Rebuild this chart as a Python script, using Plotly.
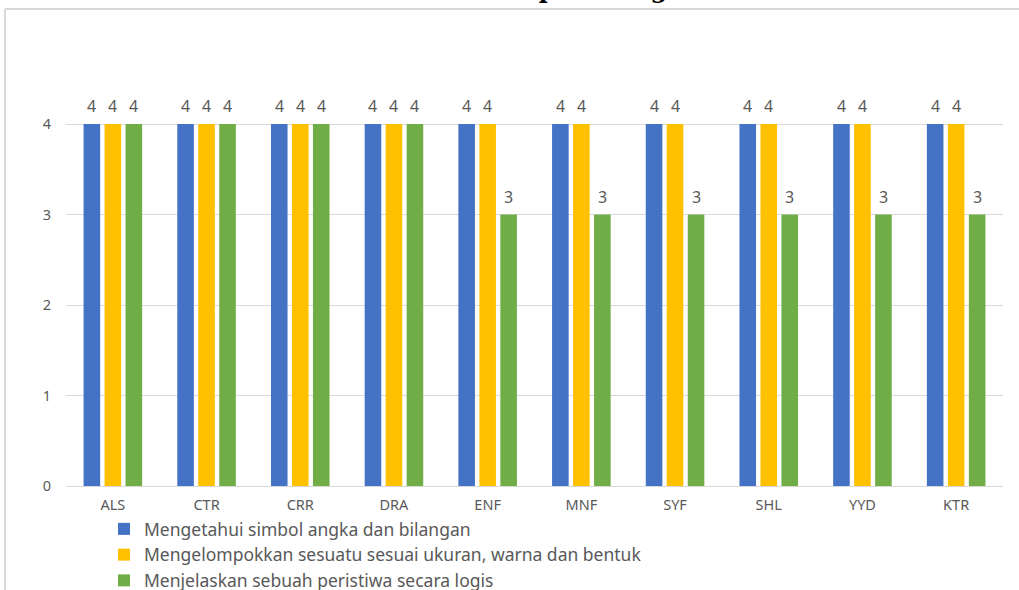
import plotly.graph_objects as go

categories = ["ALS", "CTR", "CRR", "DRA", "ENF", "MNF", "SYF", "SHL", "YYD", "KTR"]
series_names = [
    "Mengetahui simbol angka dan bilangan",
    "Mengelompokkan sesuatu sesuai ukuran, warna dan bentuk",
    "Menjelaskan sebuah peristiwa secara logis",
]
s1 = [4, 4, 4, 4, 4, 4, 4, 4, 4, 4]
s2 = [4, 4, 4, 4, 4, 4, 4, 4, 4, 4]
s3 = [4, 4, 4, 4, 3, 3, 3, 3, 3, 3]
colors = ["#4472C4", "#FFC000", "#70AD47"]
y_ticks = [0, 1, 2, 3, 4]
title_text = "Observasi Siklus I Kemampuan Kognitif Anak Didik"

W, H = 1019, 590
ml, mr, mt, mb = 66, 16, 60, 104
pw, ph = W - ml - mr, H - mt - mb

def px_x(p):
    return (p - ml) / pw

def px_y(p):
    return (H - mb - p) / ph

font = "Noto Sans"
grey = "#595959"

fig = go.Figure()
all_series = [s1, s2, s3]
for name, vals, col in zip(series_names, all_series, colors):
    fig.add_trace(go.Bar(
        x=categories, y=vals, name=name, marker=dict(color=col, line=dict(width=0)),
        legendgroup=name,
    ))

bargap = 0.328
groupgap = 0.21
slot = (1 - bargap) / 3
annotations = []
for k, vals in enumerate(all_series):
    off = (k - 1) * slot
    for i, v in enumerate(vals):
        annotations.append(dict(
            x=i + off, y=v, xref="x", yref="y", text=str(v), showarrow=False,
            yanchor="bottom", yshift=5, font=dict(family=font, size=16, color=grey),
        ))

annotations.append(dict(
    x=0.5, xref="paper", y=px_y(6), yref="paper", text="<b>" + title_text + "</b>",
    showarrow=False, yanchor="bottom", xanchor="center",
    font=dict(family="DejaVu Serif", size=24, color="#000000"),
))

shapes = [
    dict(type="line", xref="paper", yref="paper", x0=px_x(5), x1=px_x(5),
         y0=px_y(600), y1=px_y(9), line=dict(color="#d9d9d9", width=2), layer="below"),
    dict(type="line", xref="paper", yref="paper", x0=px_x(5), x1=px_x(1030),
         y0=px_y(9), y1=px_y(9), line=dict(color="#d9d9d9", width=2), layer="below"),
]

fig.update_layout(
    width=W, height=H,
    margin=dict(l=ml, r=mr, t=mt, b=mb, autoexpand=False),
    paper_bgcolor="white", plot_bgcolor="white",
    barmode="group", bargap=bargap, bargroupgap=groupgap,
    annotations=annotations, shapes=shapes,
    showlegend=True,
    legend=dict(
        orientation="v", x=px_x(104), y=px_y(511), xanchor="left", yanchor="top",
        font=dict(family=font, size=17.5, color=grey), traceorder="normal",
        tracegroupgap=1, itemwidth=30, bgcolor="rgba(0,0,0,0)",
    ),
    xaxis=dict(
        type="category", showgrid=False, showline=False, zeroline=False,
        tickfont=dict(family=font, size=14.5, color=grey), ticks="",
        ticklabelstandoff=8, range=[-0.5, len(categories) - 0.5],
    ),
    yaxis=dict(
        range=[0, 4 + (124 - mt) / 90.5], tickvals=y_ticks, showgrid=True,
        gridcolor="#d9d9d9", gridwidth=1, zeroline=True, zerolinecolor="#d9d9d9",
        zerolinewidth=1, showline=False, ticks="",
        tickfont=dict(family=font, size=14.5, color=grey), ticklabelstandoff=14,
    ),
)

fig.write_html("out.html")
